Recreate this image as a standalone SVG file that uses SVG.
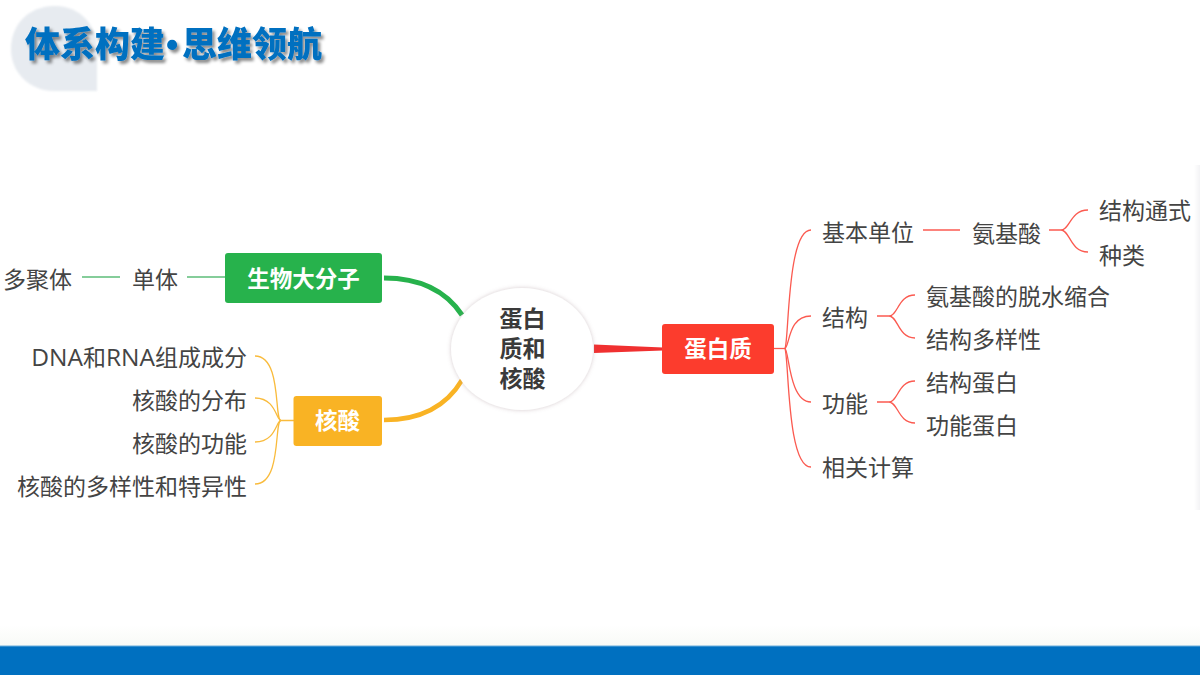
<svg xmlns="http://www.w3.org/2000/svg" width="1200" height="675" viewBox="0 0 1200 675">
<defs>
<linearGradient id="fade" x1="0" y1="0" x2="0" y2="1"><stop offset="0" stop-color="#ffffff"/><stop offset="1" stop-color="#f8faf6"/></linearGradient>
<linearGradient id="edge" x1="0" y1="0" x2="1" y2="0"><stop offset="0" stop-color="#ffffff"/><stop offset="1" stop-color="#f3f3f5"/></linearGradient>
<filter id="ts" x="-10%" y="-30%" width="120%" height="170%"><feDropShadow dx="2.5" dy="3" stdDeviation="1.5" flood-color="#000" flood-opacity="0.45"/></filter>
<filter id="cs" x="-20%" y="-20%" width="140%" height="140%"><feDropShadow dx="0" dy="0" stdDeviation="2" flood-color="#a08a90" flood-opacity="0.45"/></filter>
<filter id="bs" x="-20%" y="-20%" width="140%" height="140%"><feGaussianBlur stdDeviation="1.2"/></filter>
</defs>
<style>
text{font-family:"Open Sans","Noto Sans CJK SC",sans-serif}
.t{font-size:23px;fill:#444;text-anchor:start}
.l{font-size:24.500px}
.b{font-size:22.500px;font-weight:700;fill:#fff;text-anchor:middle}
.c{font-size:23px;font-weight:700;fill:#3a3a3a;text-anchor:middle}
.r{fill:none;stroke:#fb5a50;stroke-width:1.3}
.o{fill:none;stroke:#f9bb3c;stroke-width:1.3}
.g{fill:none;stroke:#5cbd78;stroke-width:1.3}
.h{font-size:35px;font-weight:900;fill:#0070c0}
</style>
<rect width="1200" height="675" fill="#fff"/>
<rect x="0" y="625" width="1200" height="21" fill="url(#fade)"/>
<rect x="1194" y="165" width="6" height="345" fill="url(#edge)"/>
<rect x="0" y="646" width="1200" height="29" fill="#0070c0"/>
<rect x="0" y="645.500" width="1200" height="1" fill="#6aaedc"/>

<g id="title">
<path d="M55 6C28 6 11 25 11 49C11 73 30 91 54 91H97V49C97 25 80 6 55 6Z" fill="#e7ebf0" filter="url(#bs)"/>
<text class="h" y="57" filter="url(#ts)"><tspan x="25">体系构建</tspan><tspan x="166" style="font-family:'Liberation Sans',sans-serif" font-weight="700">•</tspan><tspan x="182">思维领航</tspan></text>
</g>

<g id="connectors">
<path d="M384 278C420 278 446 291 462 315" fill="none" stroke="#27b24c" stroke-width="5"/>
<path d="M384 420C420 420 446 407 462 380" fill="none" stroke="#f9b324" stroke-width="4.500"/>
<path d="M594 344.500L663 347.500L663 350.500L594 353Z" fill="#f03030"/>
<path class="r" d="M774 348.500H785"/>
<path class="r" d="M785 348.500C789 340 787 230 811 230"/>
<path class="r" d="M785 348.500C790 345 788 316 811 316"/>
<path class="r" d="M785 348.500C789 350 789 402 811 402"/>
<path class="r" d="M785 348.500C789 360 787 467 811 467"/>
<path class="r" d="M923 230H960"/>
<path class="r" d="M1049 230H1061C1070 230 1070 210 1088 210M1061 230C1070 230 1070 252 1088 252"/>
<path class="r" d="M877 316H889C898 316 898 295 915 295M889 316C898 316 898 338 915 338"/>
<path class="r" d="M877 402H889C898 402 898 381 915 381M889 402C898 402 898 423 915 423"/>
<path class="g" d="M82 277H120"/>
<path class="g" d="M187 277H226"/>
<path class="o" d="M294 420.500H281C274 420.500 282 356 255 356"/>
<path class="o" d="M281 420.500C276 420.500 276 398 255 398"/>
<path class="o" d="M281 420.500C276 420.500 276 442 255 442"/>
<path class="o" d="M281 420.500C274 420.500 282 484 255 484"/>
</g>

<g id="root">
<ellipse cx="522" cy="349" rx="71" ry="61" fill="#fff" filter="url(#cs)"/>
<text class="c" x="522.500" y="327">蛋白</text>
<text class="c" x="522.500" y="357">质和</text>
<text class="c" x="522.500" y="387">核酸</text>
</g>
<g id="n-protein"><rect x="662" y="324" width="112" height="50" rx="3" fill="#fc3c2d"/><text class="b" x="718" y="357">蛋白质</text></g>
<g id="n-bio"><rect x="225" y="253" width="157" height="50" rx="3" fill="#27b24c"/><text class="b" x="303.500" y="287">生物大分子</text></g>
<g id="n-nucleic"><rect x="293.500" y="396" width="88.500" height="50" rx="3" fill="#f9b324"/><text class="b" x="337.500" y="429">核酸</text></g>

<g id="n1"><text class="t" x="822" y="241">基本单位</text></g>
<g id="n2"><text class="t" x="972" y="242">氨基酸</text></g>
<g id="n3"><text class="t" x="1099" y="219">结构通式</text></g>
<g id="n4"><text class="t" x="1099" y="264">种类</text></g>
<g id="n5"><text class="t" x="822" y="326">结构</text></g>
<g id="n6"><text class="t" x="926" y="305">氨基酸的脱水缩合</text></g>
<g id="n7"><text class="t" x="926" y="348">结构多样性</text></g>
<g id="n8"><text class="t" x="822" y="412">功能</text></g>
<g id="n9"><text class="t" x="926" y="391">结构蛋白</text></g>
<g id="n10"><text class="t" x="926" y="434">功能蛋白</text></g>
<g id="n11"><text class="t" x="822" y="476">相关计算</text></g>
<g id="n12"><text class="t" x="178" y="288" style="text-anchor:end">单体</text></g>
<g id="n13"><text class="t" x="72" y="288" style="text-anchor:end">多聚体</text></g>
<g id="n14"><text class="t" x="247" y="366" style="text-anchor:end"><tspan class="l">DNA</tspan>和<tspan class="l">RNA</tspan>组成成分</text></g>
<g id="n15"><text class="t" x="247" y="409" style="text-anchor:end">核酸的分布</text></g>
<g id="n16"><text class="t" x="247" y="452" style="text-anchor:end">核酸的功能</text></g>
<g id="n17"><text class="t" x="247" y="495" style="text-anchor:end">核酸的多样性和特异性</text></g>
</svg>
